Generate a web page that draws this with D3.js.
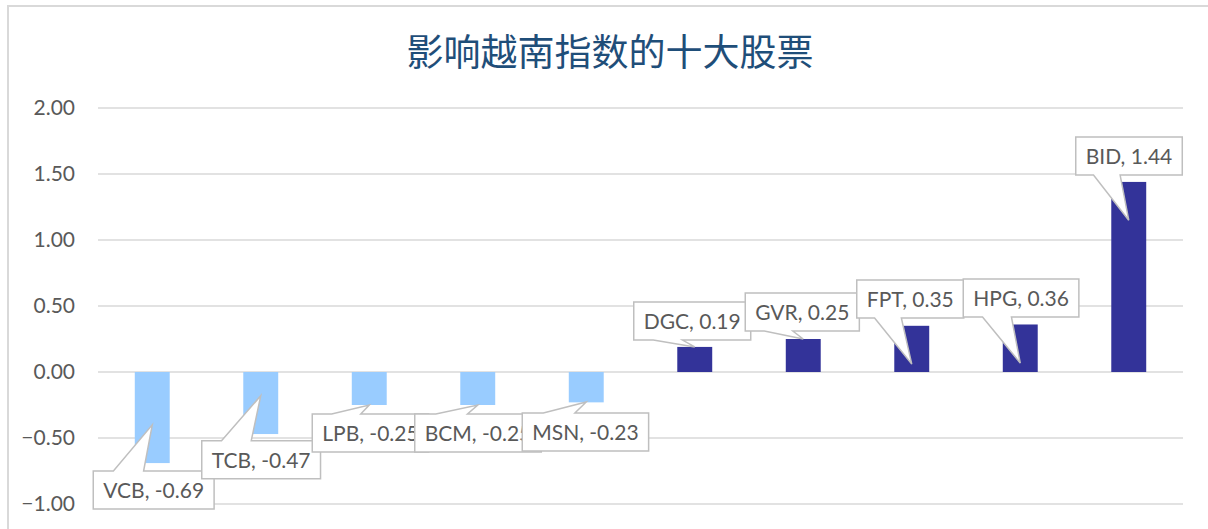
<!DOCTYPE html>
<html>
<head>
<meta charset="utf-8">
<script src="https://cdn.jsdelivr.net/npm/d3@7"></script>
<style>
  body { margin: 0; background: #fff; }
  svg { display: block; }
</style>
</head>
<body>
<div id="chart"></div>
<script>
// data
var tickers = ["VCB", "TCB", "LPB", "BCM", "MSN", "DGC", "GVR", "FPT", "HPG", "BID"];
var impact = [-0.69, -0.47, -0.25, -0.25, -0.23, 0.19, 0.25, 0.35, 0.36, 1.44];
var yTicks = [-1, -0.5, 0, 0.5, 1, 1.5, 2];

// where the callout boxes were dragged to (box left offset in px from bar centre,
// box top and pointer tip in axis units)
var calloutDx = [-59, -59, -57, -63, -64, -61, -58, -55, -57, -53];
var calloutTop = [-0.75, -0.52, -0.318, -0.318, -0.31, 0.53, 0.598, 0.697, 0.705, 1.78];
var calloutTip = [-0.40, -0.18, -0.25, -0.25, -0.227, 0.19, 0.25, 0.06, 0.068, 1.15];

var width = 1208, height = 529;

var svg = d3.select("#chart").append("svg")
    .attr("width", width)
    .attr("height", height);

// chart frame (only the top and left edges fall inside the shot)
svg.append("rect")
    .attr("x", 8).attr("y", 6)
    .attr("width", 1400).attr("height", 700)
    .attr("fill", "none")
    .attr("stroke", "#d9d9d9")
    .attr("stroke-width", 2);

svg.append("text")
    .text("影响越南指数的十大股票")
    .attr("x", 610)
    .attr("y", 66)
    .attr("text-anchor", "middle")
    .attr("font-family", "'Noto Sans CJK SC', sans-serif")
    .attr("font-size", 37)
    .attr("fill", "#1f4e79");

var x = d3.scaleBand()
    .domain(tickers)
    .range([98, 1183])
    .paddingInner(0.678)
    .paddingOuter(0.339);

var y = d3.scaleLinear()
    .domain([-1, 2])
    .range([504, 108]);

// gridlines
svg.append("g")
    .selectAll("line")
    .data(yTicks)
    .join("line")
    .attr("x1", 98).attr("x2", 1183)
    .attr("y1", d => y(d)).attr("y2", d => y(d))
    .attr("stroke", "#d9d9d9")
    .attr("stroke-width", 1.3);

// y axis labels
const yAxis = svg.append("g")
    .attr("transform", "translate(98,0)")
    .call(d3.axisLeft(y).tickValues(yTicks).tickFormat(d3.format(".2f")).tickSize(0).tickPadding(23));
yAxis.select(".domain").remove();
yAxis.selectAll("text")
    .attr("font-family", "Lato, sans-serif")
    .attr("font-size", 21)
    .attr("fill", "#595959");

// bars
svg.append("g")
    .selectAll("rect")
    .data(impact)
    .join("rect")
    .attr("x", (d, i) => x(tickers[i]))
    .attr("width", x.bandwidth())
    .attr("y", d => y(Math.max(0, d)))
    .attr("height", d => Math.abs(y(d) - y(0)))
    .attr("fill", d => d < 0 ? "#99ccff" : "#333399");

// callout data labels
const labels = svg.append("g");
impact.forEach((v, i) => {
    const cx = x(tickers[i]) + x.bandwidth() / 2;
    const g = labels.append("g");
    const txt = g.append("text")
        .text(tickers[i] + ", " + v.toFixed(2))
        .attr("font-family", "Lato, sans-serif")
        .attr("font-size", 21)
        .attr("fill", "#595959");
    const w = txt.node().getComputedTextLength() + 20;
    const h = 38;
    const l = cx + calloutDx[i];
    const t = y(calloutTop[i]);
    const r = l + w, b = t + h;
    const tx = cx, ty = y(calloutTip[i]);
    const b1 = l + w / 6, b2 = l + w * 5 / 12;
    let path;
    if (ty > b) {
        path = `M${l},${t}H${r}V${b}H${b2}L${tx},${ty}L${b1},${b}H${l}Z`;
    } else {
        path = `M${l},${t}H${b1}L${tx},${ty}L${b2},${t}H${r}V${b}H${l}Z`;
    }
    g.insert("path", "text")
        .attr("d", path)
        .attr("fill", "#fff")
        .attr("stroke", "#bfbfbf")
        .attr("stroke-width", 1.5);
    txt.attr("x", l + 10).attr("y", t + 27);
});
</script>
</body>
</html>
